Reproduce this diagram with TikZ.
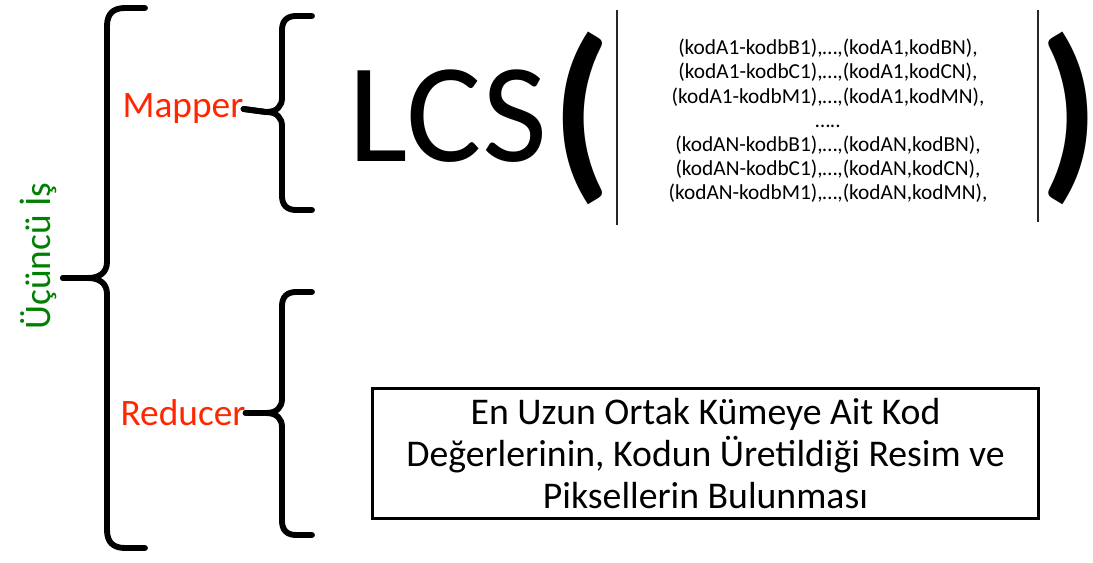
\documentclass[tikz,border=0pt]{standalone}
\usepackage{fontspec}
\setmainfont{Carlito}
\definecolor{labelred}{RGB}{255,38,0}
\definecolor{jobgreen}{RGB}{0,128,0}
\begin{document}
\begin{tikzpicture}[x=0.75pt,y=-0.75pt,
  bracket/.style={line width=4.4pt, line cap=round, line join=round},
  phase/.style={inner sep=0pt, text=labelred, font=\fontsize{28}{32}\selectfont},
  paren/.style={inner sep=0pt, font=\fontsize{145}{150}\selectfont\bfseries},
  rule/.style={line width=1.1pt, draw=black!85},
  pairtext/.style={inner sep=0pt, align=center, font=\fontsize{16}{18.15}\selectfont},
  resultbox/.style={draw, line width=2.2pt, inner sep=0pt, align=center,
    minimum width=500pt, minimum height=98pt, font=\fontsize{28.3}{31.5}\selectfont}]
\useasboundingbox (0,0) rectangle (1093,563);
\fill[white] (0,0) rectangle (1093,563);

% job title, written upwards
\node[inner sep=0pt, text=jobgreen, rotate=90, font=\fontsize{28}{32}\selectfont] (job) at (38,256) {Üçüncü İş};

% outer brace joining the two phases
\coordinate (jobtip) at (63,278);
\draw[bracket] (145,8) -- (125,8) .. controls (113,8) and (107,14) .. (107,26)
  -- (107,262) .. controls (107,272) and (100,278) .. (88,278) -- (jobtip);
\draw[bracket] (jobtip) -- (88,278) .. controls (100,278) and (107,284) .. (107,294)
  -- (107,530) .. controls (107,542) and (113,548) .. (125,548) -- (145,548);

% phase labels
\node[phase] (mapper) at (183,109) {Mapper};
\node[phase] (reducer) at (183,413) {Reducer};

% mapper brace
\draw[bracket] (312,16) -- (296,16) .. controls (287,16) and (282,21) .. (282,30)
  -- (282,98) .. controls (282,106) and (277,112) .. (266,112) -- (mapper.east);
\draw[bracket] (mapper.east) -- (266,112) .. controls (277,112) and (282,118) .. (282,126)
  -- (282,196) .. controls (282,205) and (287,210) .. (296,210) -- (312,210);

% reducer brace
\draw[bracket] (312,292) -- (296,292) .. controls (287,292) and (282,297) .. (282,306)
  -- (282,399) .. controls (282,407) and (277,413) .. (266,413) -- (reducer.east);
\draw[bracket] (reducer.east) -- (266,413) .. controls (277,413) and (282,419) .. (282,427)
  -- (282,521) .. controls (282,530) and (287,535) .. (296,535) -- (312,535);

% LCS( ... )
\node[inner sep=0pt, anchor=base, font=\fontsize{106}{110}\selectfont] (lcs) at (448,162) {LCS};
\node[paren] (lpar) at (582,118) {(};
\node[paren] (rpar) at (1066,118) {)\kern-6pt};

\coordinate (ltop) at (617,10);
\coordinate (lbot) at (617,225);
\coordinate (rtop) at (1038,10);
\coordinate (rbot) at (1038,222);
\draw[rule] (ltop) -- (lbot);
\draw[rule] (rtop) -- (rbot);

\node[pairtext] (pairs) at (828,121) {(kodA1-kodbB1),…,(kodA1,kodBN),\\
(kodA1-kodbC1),…,(kodA1,kodCN),\\
(kodA1-kodbM1),…,(kodA1,kodMN),\\
…..\\
(kodAN-kodbB1),…,(kodAN,kodBN),\\
(kodAN-kodbC1),…,(kodAN,kodCN),\\
(kodAN-kodbM1),…,(kodAN,kodMN),};

% reducer output
\node[resultbox] (result) at (705.5,453.5) {En Uzun Ortak Kümeye Ait Kod\\
Değerlerinin, Kodun Üretildiği Resim ve\\
Piksellerin Bulunması};
\end{tikzpicture}
\end{document}
